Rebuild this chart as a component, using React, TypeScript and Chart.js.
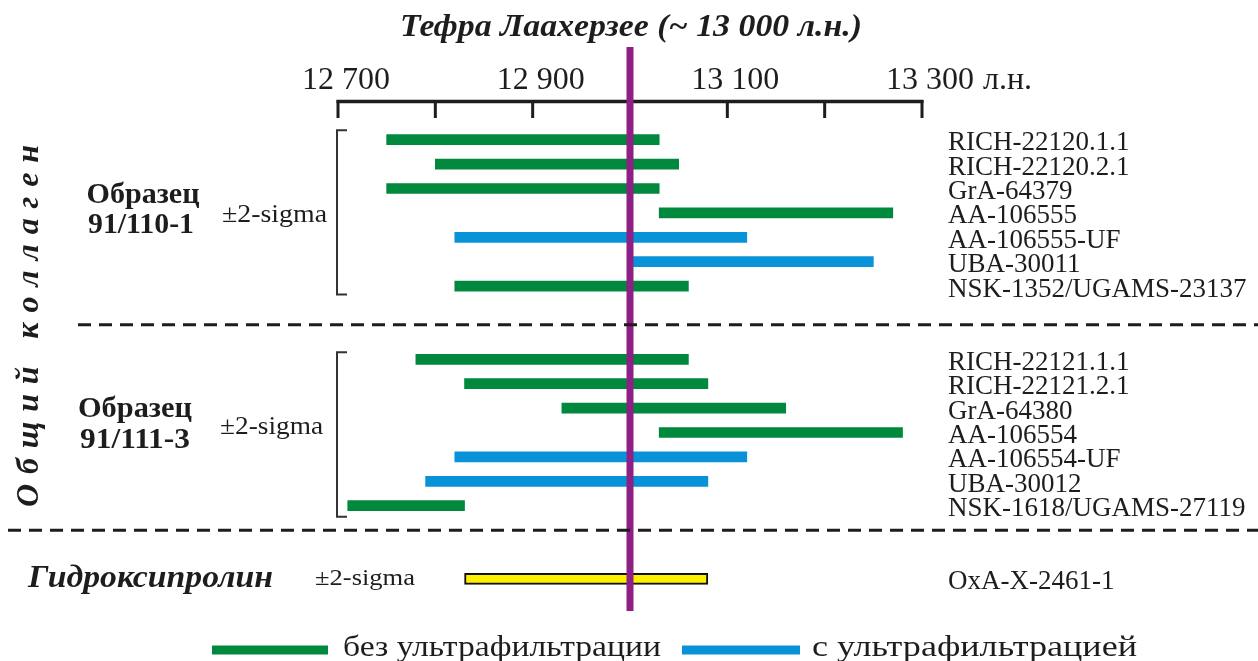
import React, { useEffect, useRef } from 'react';
import { Chart, registerables } from 'chart.js';

Chart.register(...registerables);

// ---- data ----
const SAMPLE_LABELS = [
  'RICH-22120.1.1', 'RICH-22120.2.1', 'GrA-64379', 'AA-106555', 'AA-106555-UF', 'UBA-30011', 'NSK-1352/UGAMS-23137',
  'RICH-22121.1.1', 'RICH-22121.2.1', 'GrA-64380', 'AA-106554', 'AA-106554-UF', 'UBA-30012', 'NSK-1618/UGAMS-27119',
  'OxA-X-2461-1',
];
const RANGE_START = [12750, 12800, 12750, 13030, 12820, 13002, 12820, 12780, 12830, 12930, 13030, 12820, 12790, 12710, 12830];
const RANGE_END = [13030, 13050, 13030, 13270, 13120, 13250, 13060, 13060, 13080, 13160, 13280, 13120, 13080, 12830, 13080];
// 'noUF' = без ультрафильтрации, 'UF' = с ультрафильтрацией, 'hyp' = гидроксипролин
const METHOD = ['noUF', 'noUF', 'noUF', 'noUF', 'UF', 'UF', 'noUF', 'noUF', 'noUF', 'noUF', 'noUF', 'UF', 'UF', 'noUF', 'hyp'];
const ROW = [0, 1, 2, 3, 4, 5, 6, 9, 10, 11, 12, 13, 14, 15, 18];
const X_TICKS = [12700, 12800, 12900, 13000, 13100, 13200, 13300];
const X_TICK_LABELS = ['12 700', '', '12 900', '', '13 100', '', '13 300'];
const X_UNIT = 'л.н.';
const TEPHRA_AGE = 13000;
const TITLE = 'Тефра Лаахерзее (~ 13 000 л.н.)';
const GROUP_NAMES = [['Образец', '91/110-1'], ['Образец', '91/111-3']];
const SIDE_TITLE = 'Общий коллаген';
const HYP_TITLE = 'Гидроксипролин';
const SIGMA = '±2-sigma';
const LEGEND = ['без ультрафильтрации', 'с ультрафильтрацией'];

const GREEN = '#00893d';
const BLUE = '#0a92d9';
const YELLOW = '#fff000';
const PURPLE = '#8e1f84';
const INK = '#1f1c1d';
const SERIF = '"Liberation Serif", "Times New Roman", serif';

function txt(ctx: CanvasRenderingContext2D, s: string, x: number, y: number, font: string, align: string = 'left', width?: number) {
  ctx.save();
  ctx.font = font;
  ctx.fillStyle = INK;
  ctx.textBaseline = 'alphabetic';
  ctx.textAlign = 'left';
  const w = ctx.measureText(s).width;
  const sx = width ? width / w : 1;
  const ww = w * sx;
  const left = align === 'center' ? x - ww / 2 : align === 'right' ? x - ww : x;
  ctx.translate(left, y);
  ctx.scale(sx, 1);
  ctx.fillText(s, 0, 0);
  ctx.restore();
}

function buildData(kind: string) {
  const out: any[] = [];
  for (let i = 0; i < SAMPLE_LABELS.length; i++) {
    if (METHOD[i] === kind) out.push({ x: [RANGE_START[i], RANGE_END[i]], y: ROW[i] });
  }
  return out;
}

const decor = {
  id: 'decor',
  beforeDraw(chart: any) {
    const ctx = chart.ctx;
    ctx.save();
    ctx.fillStyle = '#ffffff';
    ctx.fillRect(0, 0, chart.width, chart.height);
    ctx.restore();
  },
  afterDatasetsDraw(chart: any) {
    const ctx: CanvasRenderingContext2D = chart.ctx;
    const xs = chart.scales.x;
    const ys = chart.scales.y;
    ctx.save();

    // title
    txt(ctx, TITLE, 631, 36, `italic bold 31px ${SERIF}`, 'center', 462);

    // axis line and ticks
    const x0 = xs.getPixelForValue(X_TICKS[0]);
    const x1 = xs.getPixelForValue(X_TICKS[X_TICKS.length - 1]);
    ctx.strokeStyle = INK;
    ctx.lineWidth = 3.5;
    ctx.beginPath();
    ctx.moveTo(x0 - 1.5, 101.5);
    ctx.lineTo(x1 + 1.5, 101.5);
    ctx.stroke();
    ctx.lineWidth = 3;
    X_TICKS.forEach((t, i) => {
      const px = xs.getPixelForValue(t);
      ctx.beginPath();
      ctx.moveTo(px, 100);
      ctx.lineTo(px, 118);
      ctx.stroke();
      if (X_TICK_LABELS[i]) {
        txt(ctx, X_TICK_LABELS[i], px + 8, 89, `32px ${SERIF}`, 'center');
        if (i === X_TICKS.length - 1) {
          ctx.save();
          ctx.font = `32px ${SERIF}`;
          const w = ctx.measureText(X_TICK_LABELS[i]).width;
          ctx.restore();
          txt(ctx, X_UNIT, px + 8 + w / 2 + 9, 89, `32px ${SERIF}`, 'left');
        }
      }
    });

    // purple tephra line
    const tx = xs.getPixelForValue(TEPHRA_AGE);
    ctx.strokeStyle = PURPLE;
    ctx.lineWidth = 7;
    ctx.beginPath();
    ctx.moveTo(tx, 47);
    ctx.lineTo(tx, 611);
    ctx.stroke();

    // brackets
    ctx.strokeStyle = '#333';
    ctx.lineWidth = 2;
    const bracket = (top: number, bottom: number) => {
      ctx.beginPath();
      ctx.moveTo(347, top);
      ctx.lineTo(337, top);
      ctx.lineTo(337, bottom);
      ctx.lineTo(347, bottom);
      ctx.stroke();
    };
    bracket(ys.getPixelForValue(ROW[0]) - 9.5, ys.getPixelForValue(ROW[6]) + 8.5);
    bracket(ys.getPixelForValue(ROW[7]) - 7, ys.getPixelForValue(ROW[13]) + 11);

    // dashed separators
    ctx.strokeStyle = INK;
    ctx.lineWidth = 3;
    ctx.setLineDash([13, 8]);
    const d1 = (ys.getPixelForValue(ROW[6]) + ys.getPixelForValue(ROW[7])) / 2 + 2;
    const d2 = (ys.getPixelForValue(ROW[13]) + ys.getPixelForValue(ROW[14])) / 2 - 12;
    ctx.beginPath();
    ctx.moveTo(78, d1);
    ctx.lineTo(1258, d1);
    ctx.stroke();
    ctx.beginPath();
    ctx.moveTo(8, d2);
    ctx.lineTo(1258, d2);
    ctx.stroke();
    ctx.setLineDash([]);

    // right labels
    for (let i = 0; i < SAMPLE_LABELS.length; i++) {
      txt(ctx, SAMPLE_LABELS[i], 948, ys.getPixelForValue(ROW[i]) + 10.5, `27px ${SERIF}`, 'left');
    }

    // group labels
    txt(ctx, GROUP_NAMES[0][0], 143, 203, `bold 30px ${SERIF}`, 'center', 113);
    txt(ctx, GROUP_NAMES[0][1], 141, 233, `bold 30px ${SERIF}`, 'center', 106);
    txt(ctx, GROUP_NAMES[1][0], 135, 417, `bold 30px ${SERIF}`, 'center', 114);
    txt(ctx, GROUP_NAMES[1][1], 135, 448, `bold 30px ${SERIF}`, 'center', 110);
    txt(ctx, SIGMA, 222, 222, `25px ${SERIF}`, 'left', 105);
    txt(ctx, SIGMA, 220, 434, `25px ${SERIF}`, 'left', 103);
    txt(ctx, HYP_TITLE, 28, 587, `italic bold 31px ${SERIF}`, 'left', 245);
    txt(ctx, SIGMA, 315, 585, `24px ${SERIF}`, 'left', 100);

    // vertical side title
    ctx.save();
    ctx.translate(38, 507);
    ctx.rotate(-Math.PI / 2);
    ctx.font = `italic bold 32px ${SERIF}`;
    ctx.fillStyle = INK;
    const chars = Array.from(SIDE_TITLE);
    const widths = chars.map((c) => ctx.measureText(c).width);
    const totalW = widths.reduce((a, b) => a + b, 0);
    const L = 362;
    const sp = (L - totalW) / (chars.length - 1);
    let pos = 0;
    chars.forEach((c, i) => {
      ctx.fillText(c, pos, 0);
      pos += widths[i] + sp;
    });
    ctx.restore();

    // legend
    ctx.lineWidth = 9;
    ctx.strokeStyle = GREEN;
    ctx.beginPath();
    ctx.moveTo(212, 650);
    ctx.lineTo(328, 650);
    ctx.stroke();
    txt(ctx, LEGEND[0], 343, 656, `30px ${SERIF}`, 'left', 318);
    ctx.strokeStyle = BLUE;
    ctx.beginPath();
    ctx.moveTo(682, 650);
    ctx.lineTo(800, 650);
    ctx.stroke();
    txt(ctx, LEGEND[1], 812, 656, `30px ${SERIF}`, 'left', 325);

    ctx.restore();
  },
};

export default function App() {
  const ref = useRef<HTMLCanvasElement | null>(null);
  useEffect(() => {
    if (!ref.current) return;
    const chart = new Chart(ref.current, {
      type: 'bar',
      data: {
        datasets: [
          { label: LEGEND[0], data: buildData('noUF'), backgroundColor: GREEN, borderWidth: 0, grouped: false, barThickness: 10 } as any,
          { label: LEGEND[1], data: buildData('UF'), backgroundColor: BLUE, borderWidth: 0, grouped: false, barThickness: 10 } as any,
          { label: HYP_TITLE, data: buildData('hyp'), backgroundColor: YELLOW, borderColor: '#111', borderWidth: 2, borderSkipped: false, grouped: false, barThickness: 11 } as any,
        ],
      },
      options: {
        indexAxis: 'y',
        animation: false,
        responsive: false,
        maintainAspectRatio: false,
        layout: { padding: { left: 338, right: 1258 - 922, top: 0, bottom: 0 } },
        scales: {
          x: { type: 'linear', min: 12700, max: 13300, display: false, offset: false },
          y: { type: 'linear', reverse: true, offset: false, min: -139.7 / 24.4, max: (661 - 139.7) / 24.4, display: false },
        },
        plugins: { legend: { display: false }, tooltip: { enabled: false } },
      } as any,
      plugins: [decor],
    });
    return () => chart.destroy();
  }, []);
  return (
    <div style={{ position: 'fixed', left: 0, top: 0, width: 1258, height: 661, background: '#fff' }}>
      <canvas ref={ref} width={1258} height={661} style={{ display: 'block' }} />
    </div>
  );
}
